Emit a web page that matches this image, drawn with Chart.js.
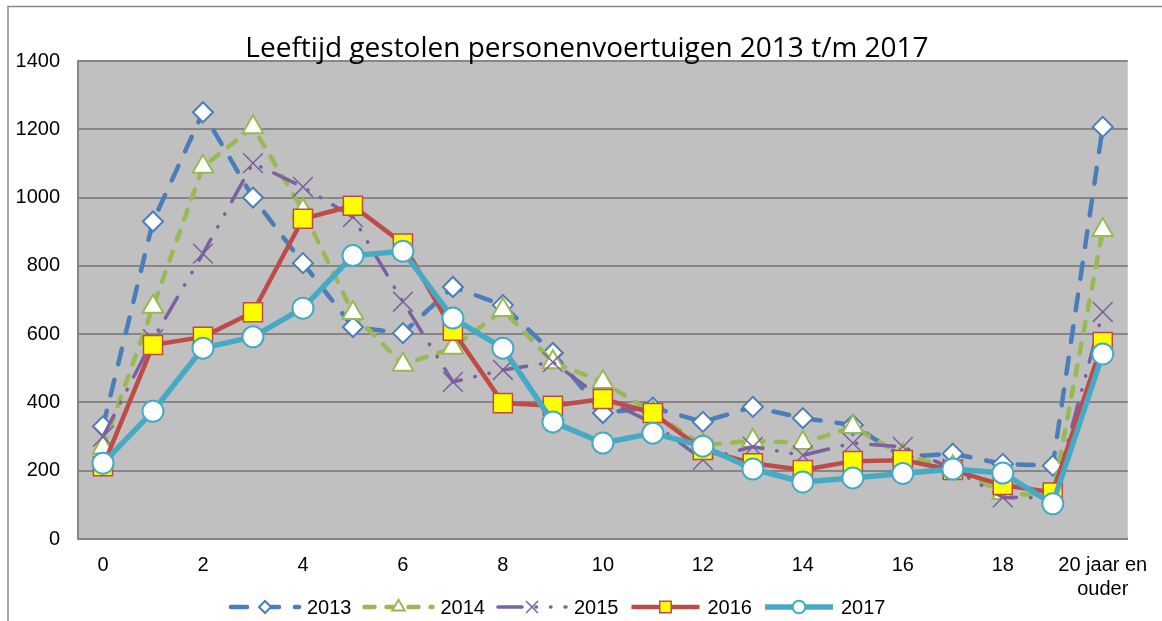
<!DOCTYPE html>
<html>
<head>
<meta charset="utf-8">
<script src="https://cdn.jsdelivr.net/npm/chart.js"></script>
<style>
  html, body { margin: 0; padding: 0; background: #fff; }
  #wrap { position: relative; width: 1162px; height: 621px; }
</style>
</head>
<body>
<div id="wrap"><canvas id="chart"></canvas></div>
<script>
    "use strict";

    // leeftijd van het voertuig (jaren)
    const categories = ["0", "1", "2", "3", "4", "5", "6", "7", "8", "9", "10",
        "11", "12", "13", "14", "15", "16", "17", "18", "19", ["20 jaar en", "ouder"]];

    const years = ["2013", "2014", "2015", "2016", "2017"];

    const values2013 = [330, 930, 1250, 1000, 808, 621, 603, 738, 685, 545, 369, 385, 343, 387, 354, 334, 240, 250, 220, 215, 1207];
    const values2014 = [268, 680, 1090, 1206, 962, 662, 510, 560, 671, 518, 460, 370, 275, 288, 281, 328, 245, 210, 135, 125, 905];
    const values2015 = [300, 585, 836, 1101, 1031, 943, 695, 460, 495, 518, 410, 340, 232, 270, 245, 281, 270, 205, 122, 120, 665];
    const values2016 = [213, 568, 592, 664, 938, 976, 865, 610, 398, 390, 410, 369, 261, 222, 202, 228, 231, 202, 158, 136, 577];
    const values2017 = [222, 374, 559, 592, 676, 830, 843, 647, 559, 343, 281, 310, 272, 205, 167, 179, 192, 205, 193, 103, 542];

    const yTicks = [0, 200, 400, 600, 800, 1000, 1200, 1400];

    const titleText = "Leeftijd gestolen personenvoertuigen 2013 t/m 2017";
    const axisFont = "'Liberation Sans', Arial, sans-serif";

    const series = [
        { label: years[0], data: values2013, color: "#4A7EBB", dash: [16, 16], width: 4.5,
          point: "rectRot", radius: 10, fill: "#ffffff", pointBorder: 2 },
        { label: years[1], data: values2014, color: "#98B954", dash: [10, 12], width: 4.5,
          point: "triangle", radius: 12, fill: "#ffffff", pointBorder: 2 },
        { label: years[2], data: values2015, color: "#7D60A0", dash: [24, 14, 0.5, 14, 0.5, 14], width: 3.5,
          point: "crossRot", radius: 14, fill: "#7D60A0", pointBorder: 1.5 },
        { label: years[3], data: values2016, color: "#BE4B48", dash: [], width: 4.5,
          point: "rect", radius: 13.5, fill: "#FFFF00", pointBorder: 1.5 },
        { label: years[4], data: values2017, color: "#46AAC5", dash: [], width: 5.5,
          point: "circle", radius: 10.5, fill: "#ffffff", pointBorder: 2 }
    ];

    const datasets = series.map((s, i) => ({
        label: s.label,
        data: s.data,
        borderColor: s.color,
        borderWidth: s.width,
        borderDash: s.dash,
        borderCapStyle: s.dash.length ? "round" : "butt",
        borderJoinStyle: "round",
        tension: 0,
        fill: false,
        pointStyle: s.point,
        pointRadius: s.radius,
        pointHoverRadius: s.radius,
        pointBackgroundColor: s.fill,
        pointBorderColor: s.color,
        pointBorderWidth: s.pointBorder,
        // later years on top
        order: series.length - 1 - i
    }));

    // small marker drawer for the legend
    function drawMarker(ctx, s, x, y) {
        const r = s.radius;
        ctx.save();
        ctx.setLineDash([]);
        ctx.lineWidth = s.pointBorder;
        ctx.strokeStyle = s.color;
        ctx.fillStyle = s.fill;
        ctx.beginPath();
        if (s.point === "rectRot") {
            ctx.moveTo(x, y - r); ctx.lineTo(x + r, y); ctx.lineTo(x, y + r); ctx.lineTo(x - r, y); ctx.closePath();
            ctx.fill(); ctx.stroke();
        } else if (s.point === "triangle") {
            const h = r * Math.sqrt(3) / 2;
            ctx.moveTo(x, y - r); ctx.lineTo(x + h, y + r / 2); ctx.lineTo(x - h, y + r / 2); ctx.closePath();
            ctx.fill(); ctx.stroke();
        } else if (s.point === "crossRot") {
            const d = r * Math.SQRT1_2;
            ctx.moveTo(x - d, y - d); ctx.lineTo(x + d, y + d);
            ctx.moveTo(x + d, y - d); ctx.lineTo(x - d, y + d);
            ctx.stroke();
        } else if (s.point === "rect") {
            const d = r * Math.SQRT1_2;
            ctx.rect(x - d, y - d, 2 * d, 2 * d);
            ctx.fill(); ctx.stroke();
        } else {
            ctx.arc(x, y, r, 0, Math.PI * 2);
            ctx.fill(); ctx.stroke();
        }
        ctx.restore();
    }

    const frameAndLegend = {
        id: "frameAndLegend",
        beforeDraw: (chart) => {
            const { ctx, chartArea } = chart;
            ctx.save();
            ctx.fillStyle = "#C0C0C0";
            ctx.fillRect(chartArea.left, chartArea.top, chartArea.right - chartArea.left, chartArea.bottom - chartArea.top);
            ctx.restore();
        },
        afterDraw: (chart) => {
            const { ctx } = chart;
            ctx.save();
            // outer border of the chart object
            ctx.strokeStyle = "#898989";
            ctx.lineWidth = 1.5;
            ctx.strokeRect(8, 6.5, 1200, 700);

            // title
            ctx.fillStyle = "#000";
            ctx.font = "28px 'Open Sans', 'Noto Sans', sans-serif";
            ctx.textAlign = "center";
            ctx.textBaseline = "alphabetic";
            ctx.fillText(titleText, 587, 57);

            // legend
            ctx.font = "20px " + axisFont;
            ctx.textAlign = "left";
            ctx.textBaseline = "middle";
            const ly = 607;
            let lx = 229;
            series.forEach((s) => {
                ctx.save();
                ctx.strokeStyle = s.color;
                ctx.lineWidth = s.width;
                ctx.setLineDash(s.dash);
                ctx.lineCap = s.dash.length ? "round" : "butt";
                ctx.beginPath();
                ctx.moveTo(lx + 2, ly);
                ctx.lineTo(lx + 70, ly);
                ctx.stroke();
                ctx.restore();
                drawMarker(ctx, { ...s, radius: s.radius * 0.6 }, lx + 36, ly);
                ctx.fillStyle = "#000";
                ctx.fillText(s.label, lx + 78, ly + 1);
                lx += 78 + ctx.measureText(s.label).width + 11;
            });
            ctx.restore();
        }
    };

    new Chart(document.getElementById("chart"), {
        type: "line",
        data: { labels: categories, datasets: datasets },
        options: {
            responsive: true,
            maintainAspectRatio: false,
            animation: false,
            events: [],
            layout: { padding: { top: 61, right: 32, left: 0, bottom: 0 } },
            plugins: {
                legend: { display: false },
                title: { display: false },
                tooltip: { enabled: false }
            },
            scales: {
                x: {
                    type: "category",
                    offset: true,
                    afterFit: (scale) => { scale.height = 82; },
                    grid: { display: false, drawTicks: false },
                    border: { display: true, color: "#868686", width: 2 },
                    ticks: {
                        autoSkip: false,
                        maxRotation: 0,
                        padding: 14,
                        color: "#000",
                        font: { family: axisFont, size: 20, lineHeight: 1.2 },
                        callback: function (value, index) {
                            return index % 2 === 0 ? this.getLabelForValue(value) : "";
                        }
                    }
                },
                y: {
                    min: yTicks[0],
                    max: yTicks[yTicks.length - 1],
                    afterFit: (scale) => { scale.width = 78; },
                    afterBuildTicks: (scale) => { scale.ticks = yTicks.map((v) => ({ value: v })); },
                    grid: { color: "#868686", lineWidth: 2, drawTicks: false },
                    border: { display: true, color: "#868686", width: 2 },
                    ticks: {
                        padding: 18,
                        color: "#000",
                        font: { family: axisFont, size: 20 },
                        callback: (value) => String(value)
                    }
                }
            }
        },
        plugins: [frameAndLegend]
    });
</script>
</body>
</html>
